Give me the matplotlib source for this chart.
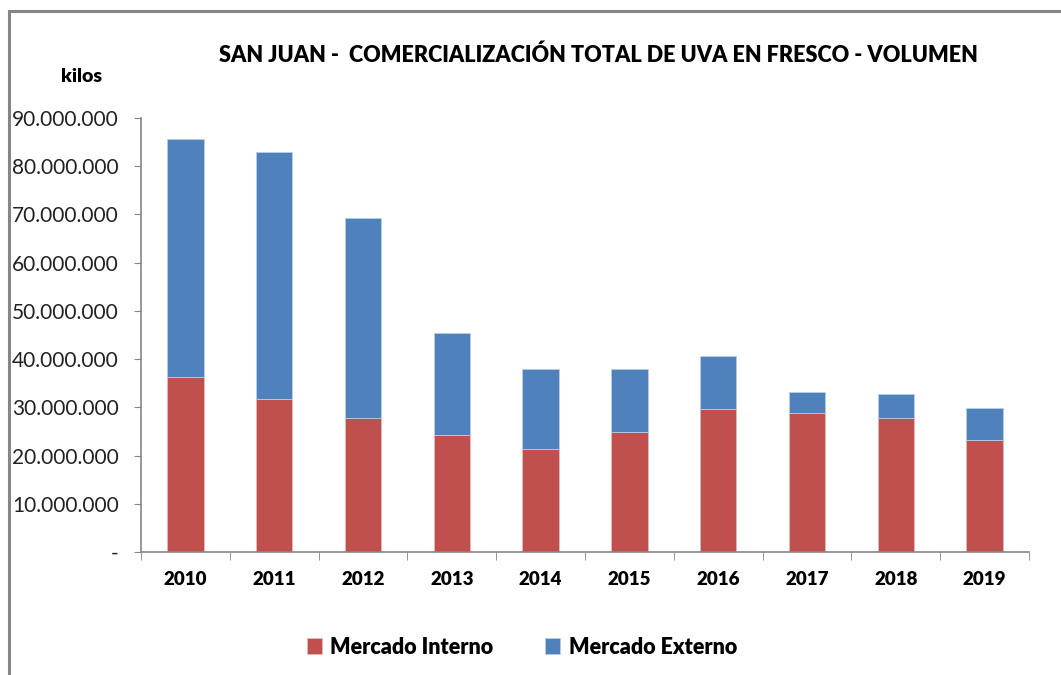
"""Stacked bar chart of San Juan fresh grape sales volume by market."""

import matplotlib.pyplot as plt
import numpy as np
from matplotlib.lines import Line2D
from matplotlib.ticker import FuncFormatter

years = ["2010", "2011", "2012", "2013", "2014", "2015", "2016", "2017", "2018", "2019"]
mercado_interno = [36.2e6, 31.8e6, 27.7e6, 24.3e6, 21.4e6, 24.9e6, 29.7e6, 28.9e6, 27.7e6, 23.3e6]
mercado_externo = [49.5e6, 51.2e6, 41.5e6, 21.2e6, 16.6e6, 13.1e6, 11.0e6, 4.2e6, 5.1e6, 6.6e6]

RED = "#c0504d"
BLUE = "#4f81bd"
GRAY = "#868686"

plt.rcParams["font.family"] = ["Lato", "DejaVu Sans"]


def miles(v, _pos):
    if v == 0:
        return "-"
    return f"{v:,.0f}".replace(",", ".")


fig = plt.figure(figsize=(10.61, 6.75), dpi=100)
ax = fig.add_axes([141 / 1061, 1 - 552 / 675, 888 / 1061, 434 / 675])

x = np.arange(len(years))
width = 0.41
ax.bar(x, mercado_interno, width, color=RED, edgecolor="#e6b9b8", linewidth=0.6,
       label="Mercado Interno")
ax.bar(x, mercado_externo, width, bottom=mercado_interno, color=BLUE,
       edgecolor="#b9cde5", linewidth=0.6, label="Mercado Externo")

ax.set_xlim(-0.5, len(years) - 0.5)
ax.set_ylim(0, 90e6)
ax.set_yticks(np.arange(0, 90e6 + 1, 10e6))
ax.yaxis.set_major_formatter(FuncFormatter(miles))
ax.tick_params(axis="y", labelsize=15, colors="#222222", length=5, color=GRAY, pad=11)

# category labels centred, tick marks on the category boundaries
ax.set_xticks(x)
ax.set_xticklabels(years, fontsize=13.5, fontweight="heavy")
ax.tick_params(axis="x", length=0, pad=14)
ax.set_xticks(np.arange(-0.5, len(years)), minor=True)
ax.tick_params(axis="x", which="minor", length=6, color=GRAY)

for side in ("top", "right"):
    ax.spines[side].set_visible(False)
for side in ("left", "bottom"):
    ax.spines[side].set_color(GRAY)
    ax.spines[side].set_linewidth(1.2)

fig.text(598 / 1061, 1 - 55 / 675,
         "SAN JUAN -  COMERCIALIZACIÓN TOTAL DE UVA EN FRESCO - VOLUMEN",
         ha="center", va="center", fontsize=15.6, fontweight="heavy")
fig.text(82 / 1061, 1 - 76 / 675, "kilos", ha="center", va="center",
         fontsize=14, fontweight="heavy")

leg = fig.legend(loc="center", bbox_to_anchor=(522 / 1061, 1 - 647 / 675), ncol=2,
                 frameon=False, fontsize=15.5, handlelength=0.7, handleheight=0.7,
                 handletextpad=0.4, columnspacing=2.4)
for t in leg.get_texts():
    t.set_fontweight("heavy")

# outer chart frame
fig.add_artist(Line2D([9 / 1061, 9 / 1061], [0, 1 - 11 / 675], color=GRAY, lw=2.2))
fig.add_artist(Line2D([9 / 1061, 1], [1 - 11 / 675, 1 - 11 / 675], color=GRAY, lw=2.2))

fig.savefig("out.png", dpi=100)
